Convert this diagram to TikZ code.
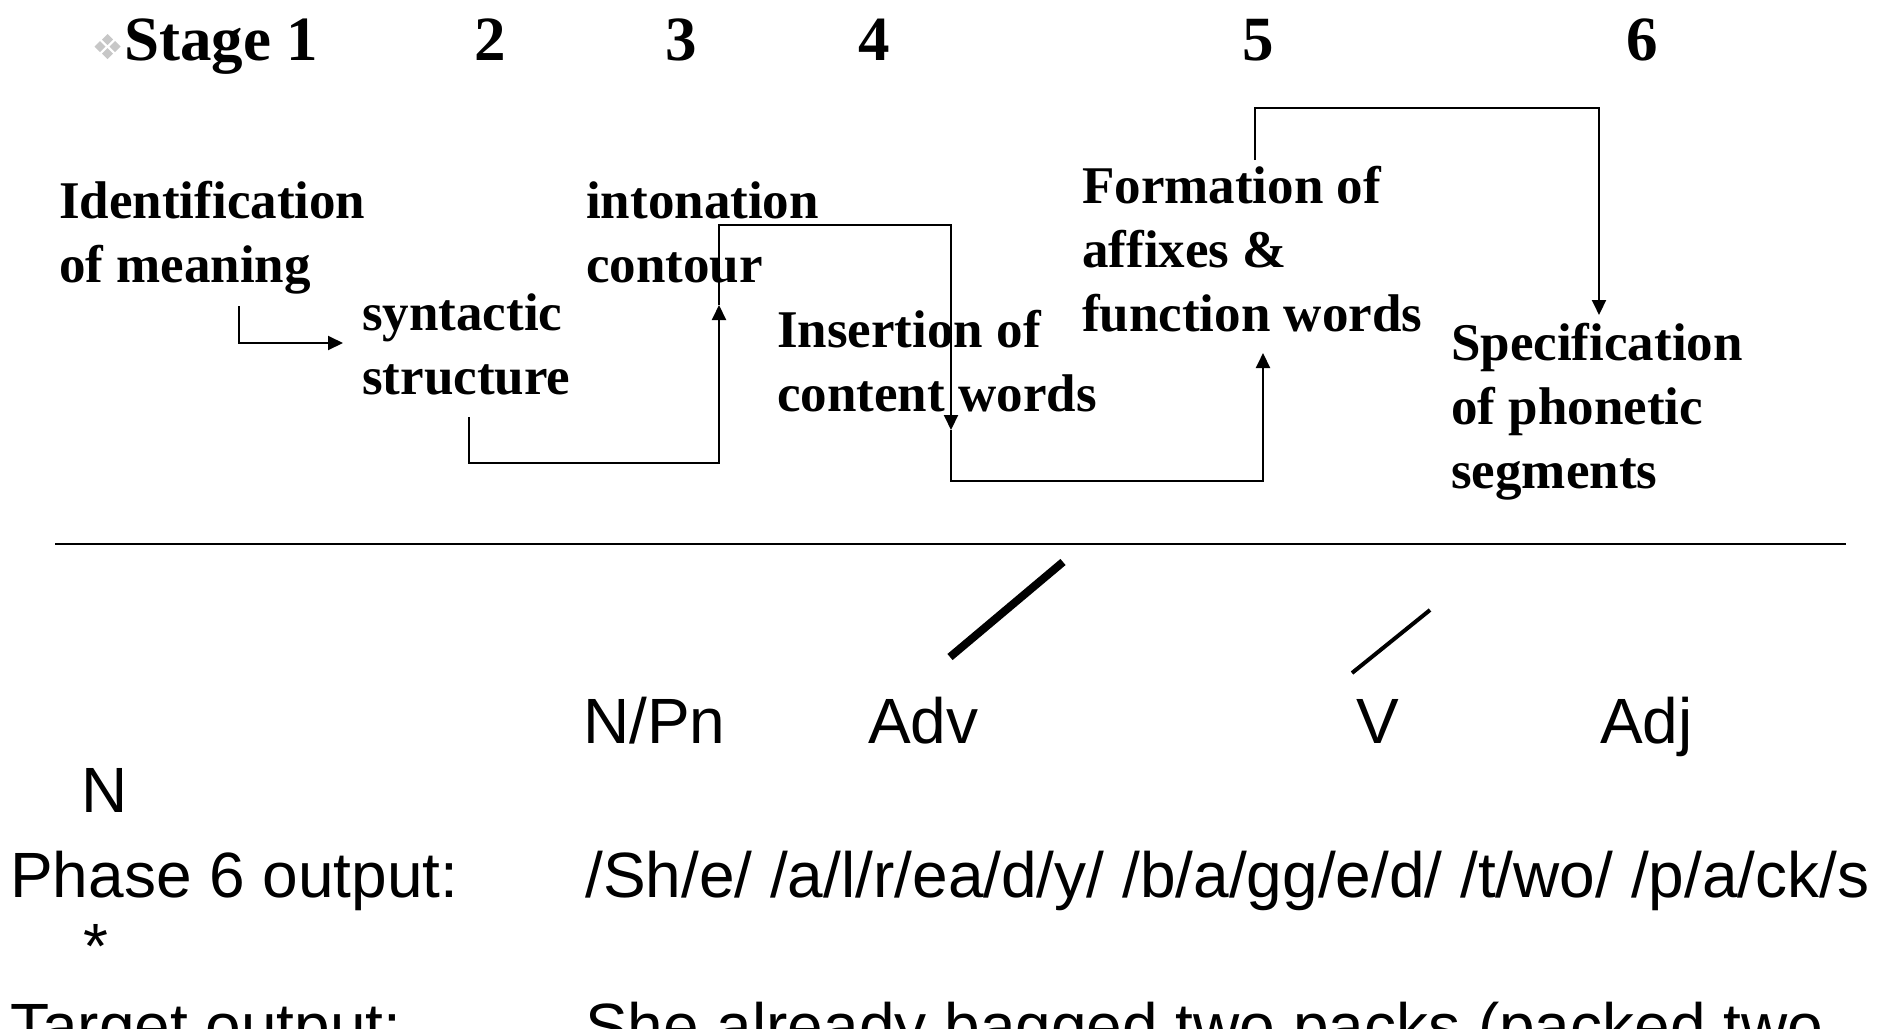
\documentclass[tikz,border=0pt]{standalone}
\usepackage{fontspec}
\setmainfont{Liberation Serif}
\newfontfamily\arialfont{Liberation Sans}
\usetikzlibrary{arrows.meta}

\begin{document}
\begin{tikzpicture}[x=1pt,y=-1pt,
  stagelbl/.style={anchor=base, inner sep=0pt, font=\fontsize{63}{76}\selectfont\bfseries},
  % multi-line blocks: the base anchor sits on the last line
  stepbox/.style={anchor=base west, inner sep=0pt, align=left, font=\fontsize{53}{64}\selectfont\bfseries},
  wordlbl/.style={anchor=base west, inner sep=0pt, font=\arialfont\fontsize{64}{77}\selectfont},
  wire/.style={line width=2pt},
  link/.style={wire, -{Triangle[width=14pt,length=15pt]}},
  bulletpart/.style={fill=black!22, draw=none},
]
\useasboundingbox (0,0) rectangle (1889,1028);
\clip (0,0) rectangle (1889,1028);

% bullet made of four small diamonds
\foreach \cx/\cy in {107.5/39.5, 100/46.5, 115/46.5, 107.5/53.5}
  \fill[bulletpart] (\cx-5.5,\cy) -- (\cx,\cy-5.5) -- (\cx+5.5,\cy) -- (\cx,\cy+5.5) -- cycle;

% stage numbers
\node[stagelbl, anchor=base west] (st1) at (124,60) {Stage 1};
\node[stagelbl] (st2) at (490,60) {2};
\node[stagelbl] (st3) at (681,60) {3};
\node[stagelbl] (st4) at (874,60) {4};
\node[stagelbl] (st5) at (1258,60) {5};
\node[stagelbl] (st6) at (1642,60) {6};

% processing steps
\node[stepbox] (ident) at (59,282) {Identification\\of meaning};
\node[stepbox] (synt)  at (362,394) {syntactic\\structure};
\node[stepbox] (inton) at (586,282) {intonation\\contour};
\node[stepbox] (insert) at (777,411) {Insertion of\\content words};
\node[stepbox] (form)  at (1082,331) {Formation of\\affixes \&\\function words};
\node[stepbox] (spec)  at (1451,488) {Specification\\of phonetic\\segments};

% connector ends
\coordinate (c1s) at (238.5,306);
\coordinate (c1e) at (343,343);
\coordinate (c2s) at (469,417);
\coordinate (c2e) at (719,305);
\coordinate (c3e) at (951,430);
\coordinate (c4e) at (1263,353);
\coordinate (c5s) at (1255,160);
\coordinate (c5e) at (1599,315);

\draw[link] (c1s) |- (c1e);
\draw[link] (c2s) -- ++(0,46) -| (c2e);
\draw[link] (c2e) -- ++(0,-80) -| (c3e);
\draw[link] (c3e) -- ++(0,51) -| (c4e);
\draw[link] (c5s) -- ++(0,-52) -| (c5e);

% dividing rule
\coordinate (ruleL) at (55,544);
\coordinate (ruleR) at (1846,544);
\draw[line width=2.5pt] (ruleL) -- (ruleR);

% slashes
\coordinate (sA1) at (950,657);
\coordinate (sA2) at (1063,562);
\coordinate (sB1) at (1352,673);
\coordinate (sB2) at (1430,610);
\draw[line width=8pt] (sA1) -- (sA2);
\draw[line width=4pt] (sB1) -- (sB2);

% word classes
\node[wordlbl] (npn) at (583,743) {N/Pn};
\node[wordlbl] (adv) at (868,743) {Adv};
\node[wordlbl] (vrb) at (1356,743) {V};
\node[wordlbl] (adj) at (1600,743) {Adj};
\node[wordlbl] (nn)  at (81,812) {N};

% outputs
\node[wordlbl] (ph6)  at (10,897) {Phase 6 output:};
\node[wordlbl] (ph6t) at (585,897) {/Sh/e/ /a/l/r/ea/d/y/ /b/a/gg/e/d/ /t/wo/ /p/a/ck/s};
\node[wordlbl] (star) at (83,968) {*};
\node[wordlbl] (tgt)  at (10,1048) {Target output:};
\node[wordlbl] (tgtt) at (585,1048) {She already bagged two packs (packed two};
\end{tikzpicture}
\end{document}
